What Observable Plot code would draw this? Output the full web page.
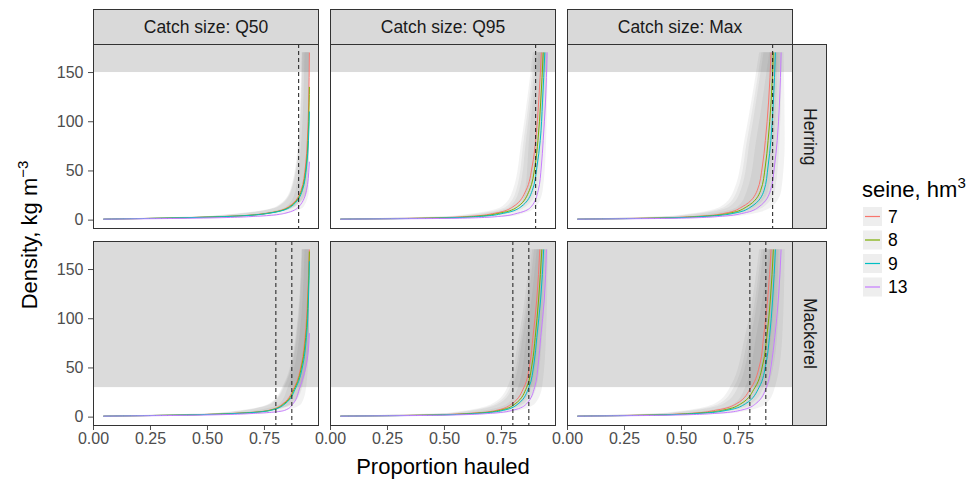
<!DOCTYPE html>
<html><head><meta charset="utf-8">
<script src="https://cdn.jsdelivr.net/npm/d3@7"></script>
<script src="https://cdn.jsdelivr.net/npm/@observablehq/plot@0.6"></script>
<style>
body{margin:0;background:#fff;font-family:"Liberation Sans",Arial,sans-serif;}
#chart{position:relative;width:970px;height:484px;overflow:hidden;background:#fff;}
.panel{position:absolute;}
.strip{position:absolute;background:#d9d9d9;border:1px solid #333;box-sizing:border-box;display:flex;align-items:center;justify-content:center;color:#1a1a1a;font-size:17.5px;}
.vstrip{writing-mode:vertical-rl;}
#overlay{position:absolute;left:0;top:0;pointer-events:none;}
</style></head><body><div id="chart"></div>
<script>
// ---------- data ----------
const seines = ["7", "8", "9", "13"];
const seineColors = ["#F8766D", "#7CAE00", "#00BFC4", "#C77CFF"];
const catchSizes = ["Q50", "Q95", "Max"];
const species = ["Herring", "Mackerel"];
const xTicks = [0, 0.25, 0.5, 0.75];
const yTicks = [0, 50, 100, 150];
const herringRefLines = [0.9];
const mackerelRefLines = [0.8, 0.87];
const herringShadeFrom = [150];
const mackerelShadeFrom = [30];
// density levels (kg m^-3) at which the proportion hauled of each fitted curve was read
const fitLevels = [1, 2, 4, 7, 13.5, 30, 55, 81, 120];
const bandLevels = [1, 4, 13.5, 30, 81, 170];

const fitHerringQ50 = [
  [0.045, 0.30, 0.60, 0.76, 0.855, 0.910, 0.930, 0.938, 0.944],
  [0.045, 0.30, 0.61, 0.765, 0.86, 0.913, 0.933, 0.941, 0.946],
  [0.045, 0.31, 0.62, 0.77, 0.865, 0.916, 0.935, 0.943, null],
  [0.045, 0.45, 0.72, 0.84, 0.90, 0.934, 0.946, null, null]];
const endHerringQ50 = [[0.947, 170], [0.947, 135], [0.947, 110], [0.947, 59]];
const bandLeftHerringQ50 = [[0.045, 0.52, 0.805, 0.865, 0.90, 0.915], [0.045, 0.53, 0.81, 0.868, 0.903, 0.917], [0.045, 0.54, 0.815, 0.871, 0.905, 0.919], [0.045, 0.64, 0.85, 0.889, 0.914, 0.928]];
const bandRightHerringQ50 = [[0.30, 0.68, 0.88, 0.935, 0.947, 0.947], [0.30, 0.69, 0.885, 0.938, 0.947, 0.947], [0.31, 0.70, 0.89, 0.941, 0.947, 0.947], [0.40, 0.80, 0.925, 0.947, 0.947, 0.947]];

const fitHerringQ95 = [
  [0.045, 0.40, 0.62, 0.72, 0.80, 0.857, 0.885, 0.900, 0.913],
  [0.045, 0.43, 0.65, 0.74, 0.82, 0.872, 0.897, 0.910, 0.922],
  [0.045, 0.46, 0.67, 0.76, 0.835, 0.885, 0.906, 0.920, 0.930],
  [0.045, 0.58, 0.75, 0.82, 0.88, 0.911, 0.925, 0.933, 0.943]];
const endHerringQ95 = [[0.925, 170], [0.933, 170], [0.940, 170], [0.950, 170]];
const bandLeftHerringQ95 = [[0.045, 0.54, 0.755, 0.802, 0.84, 0.89], [0.045, 0.57, 0.775, 0.817, 0.85, 0.898], [0.045, 0.59, 0.79, 0.83, 0.86, 0.905], [0.045, 0.67, 0.835, 0.856, 0.873, 0.915]];
const bandRightHerringQ95 = [[0.35, 0.68, 0.825, 0.879, 0.915, 0.94], [0.38, 0.71, 0.845, 0.894, 0.925, 0.948], [0.40, 0.73, 0.86, 0.907, 0.935, 0.955], [0.50, 0.81, 0.905, 0.933, 0.948, 0.955]];

const fitHerringMax = [
  [0.045, 0.35, 0.58, 0.69, 0.766, 0.832, 0.855, 0.868, 0.882],
  [0.045, 0.38, 0.60, 0.71, 0.785, 0.847, 0.868, 0.880, 0.893],
  [0.045, 0.40, 0.62, 0.73, 0.805, 0.862, 0.880, 0.892, 0.903],
  [0.045, 0.50, 0.68, 0.77, 0.84, 0.890, 0.908, 0.920, 0.930]];
const endHerringMax = [[0.893, 170], [0.903, 170], [0.912, 170], [0.937, 170]];
const bandLeftHerringMax = [[0.045, 0.46, 0.676, 0.732, 0.778, 0.843], [0.045, 0.48, 0.695, 0.747, 0.79, 0.853], [0.045, 0.50, 0.715, 0.762, 0.802, 0.862], [0.045, 0.56, 0.75, 0.79, 0.83, 0.887]];
const bandRightHerringMax = [[0.35, 0.66, 0.826, 0.882, 0.908, 0.923], [0.37, 0.68, 0.845, 0.897, 0.92, 0.933], [0.39, 0.70, 0.865, 0.912, 0.932, 0.942], [0.45, 0.76, 0.90, 0.94, 0.955, 0.95]];

const fitMackerelQ50 = [
  [0.045, 0.35, 0.63, 0.77, 0.83, 0.88, 0.913, 0.928, 0.939],
  [0.045, 0.35, 0.64, 0.775, 0.835, 0.884, 0.916, 0.931, 0.941],
  [0.045, 0.36, 0.65, 0.78, 0.84, 0.888, 0.92, 0.934, 0.943],
  [0.045, 0.45, 0.72, 0.84, 0.875, 0.905, 0.935, null, null]];
const endMackerelQ50 = [[0.947, 170], [0.947, 168], [0.947, 158], [0.947, 85]];
const bandLeftMackerelQ50 = [[0.045, 0.55, 0.775, 0.83, 0.888, 0.915], [0.045, 0.56, 0.78, 0.834, 0.891, 0.916], [0.045, 0.57, 0.785, 0.838, 0.894, 0.918], [0.045, 0.64, 0.82, 0.855, 0.905, 0.928]];
const bandRightMackerelQ50 = [[0.32, 0.71, 0.87, 0.91, 0.947, 0.947], [0.33, 0.72, 0.875, 0.914, 0.947, 0.947], [0.34, 0.73, 0.88, 0.918, 0.947, 0.947], [0.40, 0.80, 0.915, 0.935, 0.947, 0.947]];

const fitMackerelQ95 = [
  [0.045, 0.40, 0.62, 0.73, 0.795, 0.848, 0.875, 0.888, 0.905],
  [0.045, 0.42, 0.64, 0.745, 0.81, 0.86, 0.885, 0.898, 0.913],
  [0.045, 0.44, 0.66, 0.76, 0.823, 0.87, 0.893, 0.905, 0.922],
  [0.045, 0.50, 0.71, 0.80, 0.86, 0.895, 0.912, 0.922, 0.938]];
const endMackerelQ95 = [[0.918, 170], [0.927, 170], [0.935, 170], [0.947, 170]];
const bandLeftMackerelQ95 = [[0.045, 0.52, 0.715, 0.778, 0.828, 0.878], [0.045, 0.54, 0.73, 0.79, 0.838, 0.887], [0.045, 0.56, 0.743, 0.80, 0.845, 0.895], [0.045, 0.61, 0.78, 0.825, 0.862, 0.907]];
const bandRightMackerelQ95 = [[0.35, 0.69, 0.835, 0.883, 0.913, 0.933], [0.37, 0.71, 0.85, 0.895, 0.923, 0.942], [0.39, 0.73, 0.863, 0.905, 0.93, 0.95], [0.45, 0.78, 0.90, 0.93, 0.947, 0.955]];

const fitMackerelMax = [
  [0.045, 0.33, 0.55, 0.65, 0.74, 0.805, 0.845, 0.860, 0.878],
  [0.045, 0.35, 0.57, 0.68, 0.76, 0.822, 0.858, 0.874, 0.890],
  [0.045, 0.37, 0.59, 0.70, 0.78, 0.84, 0.871, 0.886, 0.900],
  [0.045, 0.45, 0.66, 0.76, 0.825, 0.872, 0.895, 0.909, 0.925]];
const endMackerelMax = [[0.893, 170], [0.903, 170], [0.912, 170], [0.937, 170]];
const bandLeftMackerelMax = [[0.045, 0.43, 0.65, 0.715, 0.78, 0.843], [0.045, 0.45, 0.67, 0.732, 0.794, 0.853], [0.045, 0.47, 0.69, 0.75, 0.806, 0.862], [0.045, 0.54, 0.735, 0.782, 0.829, 0.887]];
const bandRightMackerelMax = [[0.33, 0.63, 0.79, 0.845, 0.895, 0.918], [0.35, 0.65, 0.81, 0.862, 0.909, 0.928], [0.37, 0.67, 0.83, 0.88, 0.921, 0.937], [0.44, 0.74, 0.875, 0.912, 0.944, 0.955]];

// ---------- assemble ----------
const panelSource = {
  Herring: {
    Q50: [fitHerringQ50, endHerringQ50, bandLeftHerringQ50, bandRightHerringQ50],
    Q95: [fitHerringQ95, endHerringQ95, bandLeftHerringQ95, bandRightHerringQ95],
    Max: [fitHerringMax, endHerringMax, bandLeftHerringMax, bandRightHerringMax]
  },
  Mackerel: {
    Q50: [fitMackerelQ50, endMackerelQ50, bandLeftMackerelQ50, bandRightMackerelQ50],
    Q95: [fitMackerelQ95, endMackerelQ95, bandLeftMackerelQ95, bandRightMackerelQ95],
    Max: [fitMackerelMax, endMackerelMax, bandLeftMackerelMax, bandRightMackerelMax]
  }
};
const refBySpecies = {Herring: herringRefLines, Mackerel: mackerelRefLines};
const shadeBySpecies = {Herring: herringShadeFrom, Mackerel: mackerelShadeFrom};

function tables(sp, cs) {
  const [fit, end, bl, br] = panelSource[sp][cs];
  const lines = [], bands = [];
  seines.forEach((s, i) => {
    fitLevels.forEach((lv, j) => { if (fit[i][j] != null) lines.push({seine: s, p: fit[i][j], level: lv}); });
    lines.push({seine: s, p: end[i][0], level: end[i][1]});
    bandLevels.forEach((lv, j) => bands.push({seine: s, level: lv, left: bl[i][j], right: br[i][j]}));
  });
  return {lines, bands};
}

// ---------- layout ----------
const xDomain = [0, 0.987];
const yDomain = [-8.5, 178.5];
const colLeft = [93, 330, 567];
const rowTop = [44, 241];
const PW = 225, PH = 184, ML = 93, MB = 30;
const chart = document.getElementById("chart");
const FONT = "'Liberation Sans', Arial, sans-serif";

species.forEach((sp, r) => {
  catchSizes.forEach((cs, c) => {
    const {lines, bands} = tables(sp, cs);
    const ml = c === 0 ? ML : 0, mb = r === 1 ? MB : 0;
    const plot = Plot.plot({
      width: PW + ml, height: PH + mb,
      marginLeft: ml, marginRight: 0, marginTop: 0, marginBottom: mb,
      style: {background: "transparent", fontFamily: FONT, fontSize: "16px", color: "#4d4d4d", overflow: "visible"},
      x: {domain: xDomain, axis: r === 1 ? "bottom" : null, ticks: xTicks, tickFormat: d => d.toFixed(2), tickSize: 5, tickPadding: 2, label: null},
      y: {domain: yDomain, axis: c === 0 ? "left" : null, ticks: yTicks, tickSize: 5, tickPadding: 5, label: null},
      color: {domain: seines, range: seineColors},
      marks: [
        Plot.rect(shadeBySpecies[sp], {x1: () => xDomain[0], x2: () => xDomain[1], y1: d => d, y2: () => yDomain[1], fill: "#dbdbdb"}),
        Plot.areaX(bands, {y: "level", x1: "left", x2: "right", z: "seine", fill: "#6e6e6e", fillOpacity: 0.085, curve: "monotone-y"}),
        Plot.line(lines, {x: "p", y: "level", z: "seine", stroke: "seine", strokeWidth: 1, curve: "monotone-y"}),
        Plot.ruleX(refBySpecies[sp], {stroke: "#1a1a1a", strokeWidth: 1, strokeDasharray: "4,3"}),
        Plot.frame({stroke: "#333333", strokeWidth: 1})
      ]
    });
    plot.classList.add("panel");
    plot.style.left = (colLeft[c] - ml) + "px";
    plot.style.top = rowTop[r] + "px";
    chart.appendChild(plot);
  });
});

// strips
catchSizes.forEach((cs, c) => {
  const d = document.createElement("div");
  d.className = "strip";
  d.style.left = colLeft[c] + "px"; d.style.top = "9px";
  d.style.width = PW + 1 + "px"; d.style.height = "36px";
  d.textContent = "Catch size: " + cs;
  chart.appendChild(d);
});
species.forEach((sp, r) => {
  const d = document.createElement("div");
  d.className = "strip";
  d.style.left = (colLeft[2] + PW) + "px"; d.style.top = rowTop[r] + "px";
  d.style.width = "35px"; d.style.height = PH + 1 + "px";
  const t = document.createElement("span"); t.className = "vstrip"; t.textContent = sp;
  d.appendChild(t);
  chart.appendChild(d);
});

// titles and legend
const NS = "http://www.w3.org/2000/svg";
const svg = document.createElementNS(NS, "svg");
svg.setAttribute("id", "overlay"); svg.setAttribute("width", 970); svg.setAttribute("height", 484);
svg.style.fontFamily = FONT;
let html = `
<text transform="translate(37,235) rotate(-90)" text-anchor="middle" font-size="22" fill="#000">Density, kg m<tspan dy="-9" font-size="15">\u22123</tspan></text>
<text x="443" y="474" text-anchor="middle" font-size="22" fill="#000">Proportion hauled</text>
<text x="862" y="197" font-size="22" fill="#000">seine, hm<tspan dy="-9" font-size="15">3</tspan></text>`;
seines.forEach((s, i) => {
  const cy = 216 + i * 23.5;
  html += `<rect x="863" y="${cy - 9}" width="19" height="19" fill="#eeeeee"/>`;
  html += `<line x1="865" x2="880" y1="${cy + 0.5}" y2="${cy + 0.5}" stroke="${seineColors[i]}" stroke-width="1.2"/>`;
  html += `<text x="888" y="${cy + 6.5}" font-size="17.5" fill="#000">${s}</text>`;
});
svg.innerHTML = html;
chart.appendChild(svg);
</script></body></html>
